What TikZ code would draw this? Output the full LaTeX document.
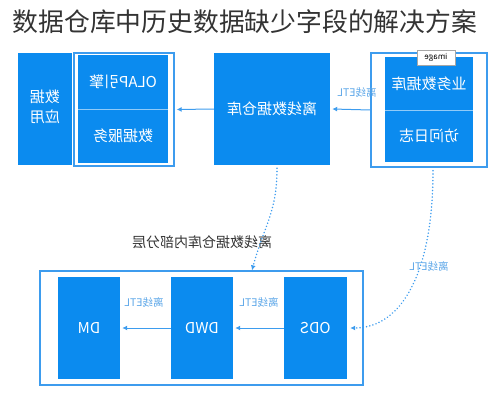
\documentclass[tikz,border=0pt]{standalone}
\usepackage{fontspec}
\setmainfont{Noto Sans CJK SC}
\usetikzlibrary{arrows.meta}
\definecolor{fillblue}{HTML}{0B8BEF}
\definecolor{lineblue}{HTML}{3D9CEE}
\definecolor{etlblue}{HTML}{5BA6E8}
\newcommand{\mir}[1]{\reflectbox{#1}}

\begin{document}
\begin{tikzpicture}[x=1pt, y=-1pt,
  box/.style={fill=fillblue, text=white, font=\fontsize{15}{18}\selectfont, inner sep=0pt},
  frame/.style={draw=lineblue, line width=1.3pt, inner sep=0pt},
  etl/.style={text=etlblue, font=\fontsize{10.5}{12}\selectfont, inner sep=1pt},
  flow/.style={draw=lineblue, line width=1pt, -{Latex[length=5pt,width=5pt]}},
  dotflow/.style={draw=lineblue, line width=1.6pt, dash pattern=on 0.1pt off 3.2pt,
    line cap=round, -{Latex[length=5pt,width=5pt]}}]
  \useasboundingbox (0,0) rectangle (493,400);
  \node[font=\fontsize{25.8}{30}\selectfont, text=black!80] (title) at (245,22)
    {数据仓库中历史数据缺少字段的解决方案};
  % --- top row ---
  \node[box, minimum width=54pt, minimum height=112pt] (app) at (45,109)
    {\mir{\begin{tabular}{@{}c@{}}数据\\[2pt]应用\end{tabular}}};
  \node[frame, minimum width=100pt, minimum height=113pt] (svcframe) at (124,109.5) {};
  \node[box, minimum width=90pt, minimum height=54pt] (olap) at (123,82) {\mir{OLAP引擎}};
  \node[box, minimum width=90pt, minimum height=54pt] (svc) at (123,136) {\mir{数据服务}};
  \draw[white!55!fillblue, line width=0.7pt] (olap.south west) -- (olap.south east);
  \node[box, minimum width=116pt, minimum height=112pt] (dw) at (272,109) {\mir{离线数据仓库}};
  \node[frame, minimum width=116pt, minimum height=114pt] (srcframe) at (429,110) {};
  \node[box, minimum width=88pt, minimum height=53pt] (biz) at (429,83.5) {\mir{业务数据库}};
  \node[box, minimum width=88pt, minimum height=52pt] (log) at (429,136) {\mir{访问日志}};
  \draw[white!55!fillblue, line width=0.7pt] (biz.south west) -- (biz.south east);
  \node[draw=gray!70, fill=white, font=\fontsize{8}{9}\selectfont, minimum width=38pt,
    minimum height=15pt, inner sep=0pt] (tag) at (436,57.5) {\mir{image}};
  \draw[flow] (dw.west) -- ([xshift=2pt]svcframe.east);
  \draw[flow] (srcframe.west) -- ([xshift=2pt]dw.east);
  \node[etl] (etltop) at (357,92) {\mir{离线ETL}};
  % --- bottom: layers ---
  \node[font=\fontsize{14}{17}\selectfont, text=black!80] (layertitle) at (202,242)
    {\mir{离线数据仓库内部分层}};
  \node[frame, minimum width=323pt, minimum height=114pt] (layerframe) at (201.5,328) {};
  \node[box, minimum width=62pt, minimum height=102pt] (dm) at (89,328) {\mir{DM}};
  \node[box, minimum width=62pt, minimum height=102pt] (dwd) at (202,328) {\mir{DWD}};
  \node[box, minimum width=63pt, minimum height=102pt] (ods) at (315.5,328) {\mir{ODS}};
  \draw[flow] (ods.west) -- ([xshift=2pt]dwd.east);
  \draw[flow] (dwd.west) -- ([xshift=2pt]dm.east);
  \node[etl] (etlb) at (259,302) {\mir{离线ETL}};
  \node[etl] (etla) at (144,302) {\mir{离线ETL}};
  % --- dotted feeds ---
  \draw[dotflow] ([xshift=5pt, yshift=-3pt]dw.south)
    .. controls +(0,45) and +(12,-45) .. ([xshift=50.5pt]layerframe.north);
  \draw[dotflow] ([xshift=4pt, yshift=-3pt]srcframe.south)
    .. controls +(0,103) and +(51,0) .. ([xshift=3pt]ods.east);
  \node[etl] (etlside) at (429,266) {\mir{离线ETL}};
\end{tikzpicture}
\end{document}
